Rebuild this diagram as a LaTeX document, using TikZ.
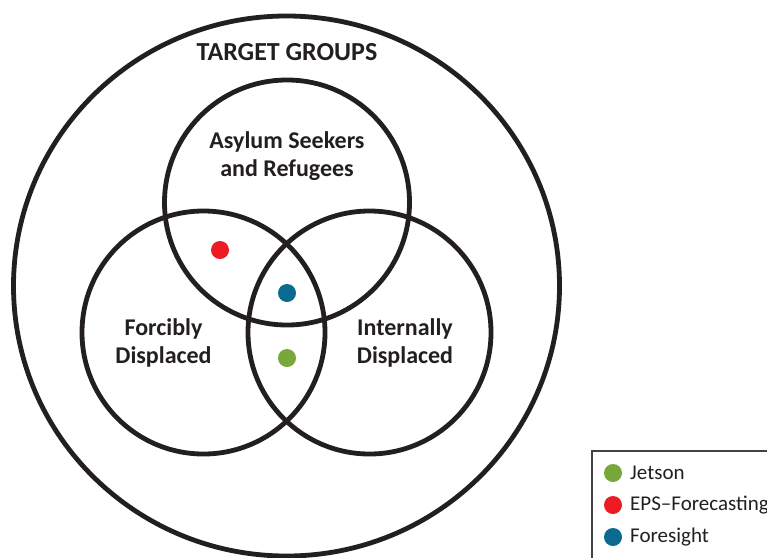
\documentclass[tikz,border=0pt]{standalone}
\usepackage{fontspec}
\setmainfont{Carlito}
\definecolor{ink}{HTML}{231F20}
\definecolor{jgreen}{HTML}{77A83A}
\definecolor{ered}{HTML}{ED1C24}
\definecolor{fblue}{HTML}{0B6A8F}
\begin{document}
\begin{tikzpicture}[x=1pt,y=-1pt,
  ring/.style={draw=ink,line width=4.8pt},
  lbl/.style={align=center,text=ink,font=\bfseries\fontsize{24}{28.5}\selectfont,inner sep=0pt},
  dot/.style={circle,minimum size=18pt,inner sep=0pt},
  legtxt/.style={anchor=west,text=ink,font=\fontsize{21}{24}\selectfont,inner sep=0pt}]
\clip (0,0) rectangle (767,557);
\fill[white] (0,0) rectangle (767,557);
% outer ellipse
\draw[ring] (286.5,286) ellipse [x radius=273, y radius=270];
% three circles
\draw[ring] (287,202.5) circle [radius=122.5];
\draw[ring] (203.5,332.5) circle [radius=121.5];
\draw[ring] (369.5,332.5) circle [radius=121.5];
% labels
\node[lbl,font=\bfseries\fontsize{26}{30}\selectfont] (tg) at (287,52) {TARGET GROUPS};
\node[lbl] (asy) at (287,156) {Asylum Seekers\\and Refugees};
\node[lbl] (fd) at (163.5,343) {Forcibly\\Displaced};
\node[lbl] (id) at (405,343) {Internally\\Displaced};
% dots
\node[dot,fill=ered] (d1) at (220,250) {};
\node[dot,fill=fblue] (d2) at (287,293) {};
\node[dot,fill=jgreen] (d3) at (287,358) {};
% legend
\draw[draw=ink!85,line width=1.3pt,fill=white] (592,451) rectangle (790,580);
\node[dot,fill=jgreen] (l1) at (613,473) {};
\node[dot,fill=ered] (l2) at (613,505) {};
\node[dot,fill=fblue] (l3) at (613,537) {};
\node[legtxt] (t1) at (630,473) {Jetson};
\node[legtxt] (t2) at (630,505) {EPS–Forecasting};
\node[legtxt] (t3) at (630,537) {Foresight};
\end{tikzpicture}
\end{document}
